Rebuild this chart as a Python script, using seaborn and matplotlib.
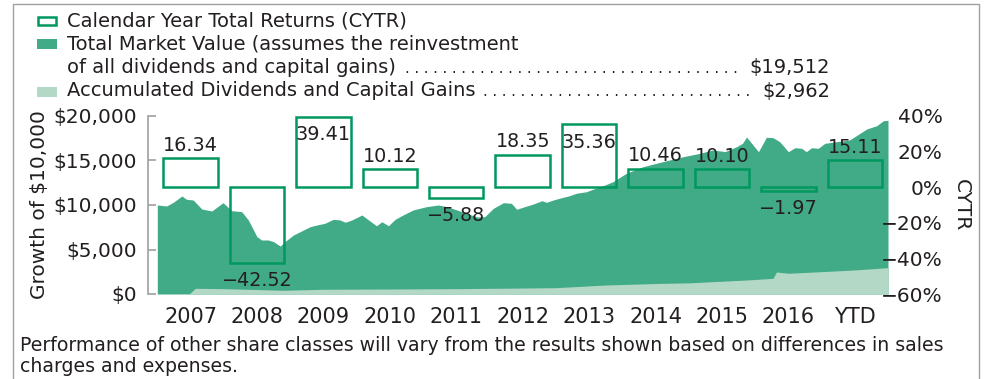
import matplotlib
matplotlib.use("Agg")
import matplotlib.pyplot as plt
from matplotlib.patches import Rectangle
import numpy as np
import pandas as pd
import seaborn as sns

# ---- data -------------------------------------------------------------
years = ["2007", "2008", "2009", "2010", "2011", "2012",
         "2013", "2014", "2015", "2016", "YTD"]
cytr = [16.34, -42.52, 39.41, 10.12, -5.88, 18.35,
        35.36, 10.46, 10.10, -1.97, 15.11]

# growth of $10,000 (decimal year, dollars)
mv_time = [2007.00, 2007.14, 2007.24, 2007.37, 2007.44, 2007.54, 2007.67,
           2007.82, 2007.99, 2008.12, 2008.27, 2008.37, 2008.50, 2008.57,
           2008.67, 2008.75, 2008.85, 2008.92, 2009.05, 2009.15, 2009.30,
           2009.40, 2009.52, 2009.65, 2009.75, 2009.83, 2009.93, 2010.08,
           2010.18, 2010.30, 2010.38, 2010.48, 2010.58, 2010.70, 2010.85,
           2011.05, 2011.23, 2011.36, 2011.51, 2011.68, 2011.82, 2011.93,
           2012.06, 2012.21, 2012.33, 2012.41, 2012.53, 2012.66, 2012.79,
           2012.86, 2012.96, 2013.11, 2013.19, 2013.31, 2013.46, 2013.61,
           2013.74, 2013.86, 2014.06, 2014.31, 2014.61, 2014.92, 2015.17,
           2015.36, 2015.55, 2015.72, 2015.81, 2015.87, 2016.05, 2016.17,
           2016.27, 2016.37, 2016.50, 2016.60, 2016.70, 2016.77, 2016.85,
           2016.95, 2017.05, 2017.22, 2017.42, 2017.58, 2017.68, 2017.83,
           2017.93, 2018.00]
market_value = [10000, 9890, 10300, 11010, 10640, 10560, 9550,
                9330, 10260, 9360, 9250, 8320, 6440, 6070,
                6070, 5880, 5390, 5880, 6630, 7000, 7560,
                7750, 7940, 8390, 8320, 8060, 8320, 8880,
                8320, 7670, 8120, 7670, 8390, 8880, 9440,
                9810, 10000, 9810, 9440, 8990, 8650, 8690,
                9630, 10260, 10190, 9520, 9810, 10110, 10480,
                10300, 10560, 10870, 11010, 11320, 11490, 11910,
                12250, 12620, 13560, 14300, 14870, 15430, 15810,
                16180, 16000, 16550, 16930, 17640, 15990, 17610,
                17560, 17110, 15990, 16440, 16370, 15990, 16440,
                16370, 16930, 17110, 17300, 18060, 18540, 18910,
                19470, 19512]

# accumulated dividends and capital gains
div_time = [2007.00, 2007.48, 2007.57, 2008.00, 2008.50, 2008.90, 2009.50,
            2010.50, 2011.50, 2012.50, 2013.00, 2013.75, 2014.50, 2015.00,
            2015.87, 2016.27, 2016.32, 2016.50, 2017.00, 2017.50, 2018.00]
dividends = [0, 0, 640, 600, 500, 420, 530,
             560, 600, 670, 710, 1010, 1180, 1250,
             1570, 1760, 2470, 2330, 2510, 2700, 2962]

growth_ticks = [0, 5000, 10000, 15000, 20000]
cytr_ticks = [-60, -40, -20, 0, 20, 40]

footnote = ["Performance of other share classes will vary from the results "
            "shown based on differences in sales",
            "charges and expenses."]

# ---- style --------------------------------------------------------------
W, H = 991, 379
DARK = "#41ab87"
LIGHT = "#b3d8c6"
EDGE = "#00985f"
INK = "#231f20"
RULE = "#a0a0a0"
TICK_FS = 14.5
YEAR_FS = 15
VAL_FS = 13.8
LFS = 14
NOTE_FS = 13.6

sns.set_theme(style="white")
plt.rcParams["font.family"] = ["DejaVu Sans"]
plt.rcParams["text.color"] = INK
plt.rcParams["axes.labelcolor"] = INK


def fx(px):
    return px / W


def fy(py):
    return 1 - py / H


def minus(s):
    return s.replace("-", "\u2212")


fig = plt.figure(figsize=(W / 100, H / 100), dpi=100)
ax = fig.add_axes([fx(148), fy(294), (888 - 148) / W, (294 - 116) / H])
ax2 = ax.twinx()

# areas, placed so each calendar year fills its own column
x_mv = np.array(mv_time) - 2007.5
x_div = np.array(div_time) - 2007.5
ax.fill_between(x_mv, market_value, 0, color=DARK, lw=0, zorder=1)
ax.fill_between(x_div, dividends, 0, color=LIGHT, lw=0, zorder=2)

# hollow calendar-year return bars on the right-hand scale
df = pd.DataFrame({"year": years, "cytr": cytr})
sns.barplot(data=df, x="year", y="cytr", ax=ax2, fill=False, color=EDGE,
            saturation=1, linewidth=1.8, width=0.82, errorbar=None)
for patch in ax2.patches:
    patch.set_edgecolor(EDGE)
    patch.set_facecolor("none")

ax.set_xlim(-0.64, 10.5)
ax.set_ylim(0, 20000)
ax2.set_ylim(-60, 40)

# value labels: above positive bars, below negative ones, and tucked
# inside the bar when there is no room above it
top = ax2.get_ylim()[1]
for i, v in enumerate(cytr):
    txt = minus(f"{v:.2f}")
    if v < 0 or v > top - 11.5:
        dy = -16.8
    else:
        dy = 5.4
    ax2.annotate(txt, (i, v), xytext=(0, dy), textcoords="offset points",
                 ha="center", va="baseline", fontsize=VAL_FS, color=INK)

# axes cosmetics
for s in ["top", "right", "bottom"]:
    ax.spines[s].set_visible(False)
ax.spines["left"].set_color(RULE)
ax.spines["left"].set_linewidth(1.2)
for s in ax2.spines.values():
    s.set_visible(False)

ax.set_yticks(growth_ticks)
ax.set_yticklabels([f"${t:,.0f}" for t in growth_ticks])
ax.tick_params(axis="y", direction="in", length=6, width=1.2, color=RULE,
               pad=8, labelsize=TICK_FS, labelcolor=INK)
ax.set_xticks(range(len(years)))
ax.set_xticklabels(years)
ax.tick_params(axis="x", length=0, pad=9.5, labelsize=YEAR_FS,
               labelcolor=INK)

ax2.set_yticks(cytr_ticks)
ax2.set_yticklabels([minus(f"{t}%") for t in cytr_ticks])
ax2.tick_params(axis="y", length=0, pad=39.5, labelsize=TICK_FS,
                labelcolor=INK)
for lab in ax2.get_yticklabels():
    lab.set_ha("right")
ax2.set_xlabel("")
ax.set_xlabel("")

ax.set_ylabel("Growth of $10,000", fontsize=TICK_FS, rotation=90,
              va="center", ha="center")
ax.yaxis.set_label_coords((39.5 - 148) / 740, 0.5)
ax2.set_ylabel("CYTR", fontsize=TICK_FS, rotation=-90, va="center",
               ha="center")
ax2.yaxis.set_label_coords((961 - 148) / 740, 0.5)
ax.grid(False)
ax2.grid(False)

# ---- legend ---------------------------------------------------------------
fig.add_artist(Rectangle((fx(38), fy(25)), 18 / W, 8 / H,
                         transform=fig.transFigure, fill=False,
                         edgecolor=EDGE, lw=1.8))
fig.add_artist(Rectangle((fx(37), fy(48.5)), 20 / W, 9.5 / H,
                         transform=fig.transFigure, color=DARK, lw=0))
fig.add_artist(Rectangle((fx(37), fy(96.5)), 20 / W, 9.5 / H,
                         transform=fig.transFigure, color=LIGHT, lw=0))

fig.text(fx(67), fy(26.5), "Calendar Year Total Returns (CYTR)",
         fontsize=LFS, va="baseline")
fig.text(fx(67), fy(49.5),
         "Total Market Value (assumes the reinvestment", fontsize=LFS,
         va="baseline")
mv_lab = fig.text(fx(67), fy(73), "of all dividends and capital gains)",
                  fontsize=LFS, va="baseline")
mv_val = fig.text(fx(830), fy(73), f"${market_value[-1]:,.0f}",
                  fontsize=LFS, va="baseline", ha="right")
dv_lab = fig.text(fx(67), fy(96.5), "Accumulated Dividends and Capital Gains",
                  fontsize=LFS, va="baseline")
dv_val = fig.text(fx(830), fy(96.5), f"${dividends[-1]:,.0f}",
                  fontsize=LFS, va="baseline", ha="right")

renderer = fig.canvas.get_renderer()
DOT_FS = 10.5
p1 = fig.text(0, 0, ".", fontsize=DOT_FS)
p2 = fig.text(0, 0, ". .", fontsize=DOT_FS)
step = (p2.get_window_extent(renderer).width
        - p1.get_window_extent(renderer).width)
p1.remove()
p2.remove()


def leader(label, value, y):
    x0 = label.get_window_extent(renderer).x1 + 6
    x1 = value.get_window_extent(renderer).x0 - 12
    n = int((x1 - x0) // step) + 1
    fig.text(x1 / W, fy(y), " ".join(["."] * n), fontsize=DOT_FS,
             va="baseline", ha="right")


leader(mv_lab, mv_val, 73)
leader(dv_lab, dv_val, 96.5)

# footnote
fig.text(fx(20), fy(351), footnote[0], fontsize=NOTE_FS, va="baseline")
fig.text(fx(20), fy(372), footnote[1], fontsize=NOTE_FS, va="baseline")

# outer frame (open at the bottom)
fig.add_artist(Rectangle((fx(13), -0.1), fx(979) - fx(13), fy(4) + 0.1,
                         transform=fig.transFigure, fill=False,
                         edgecolor=RULE, lw=1))

fig.savefig("out.png", dpi=100)
